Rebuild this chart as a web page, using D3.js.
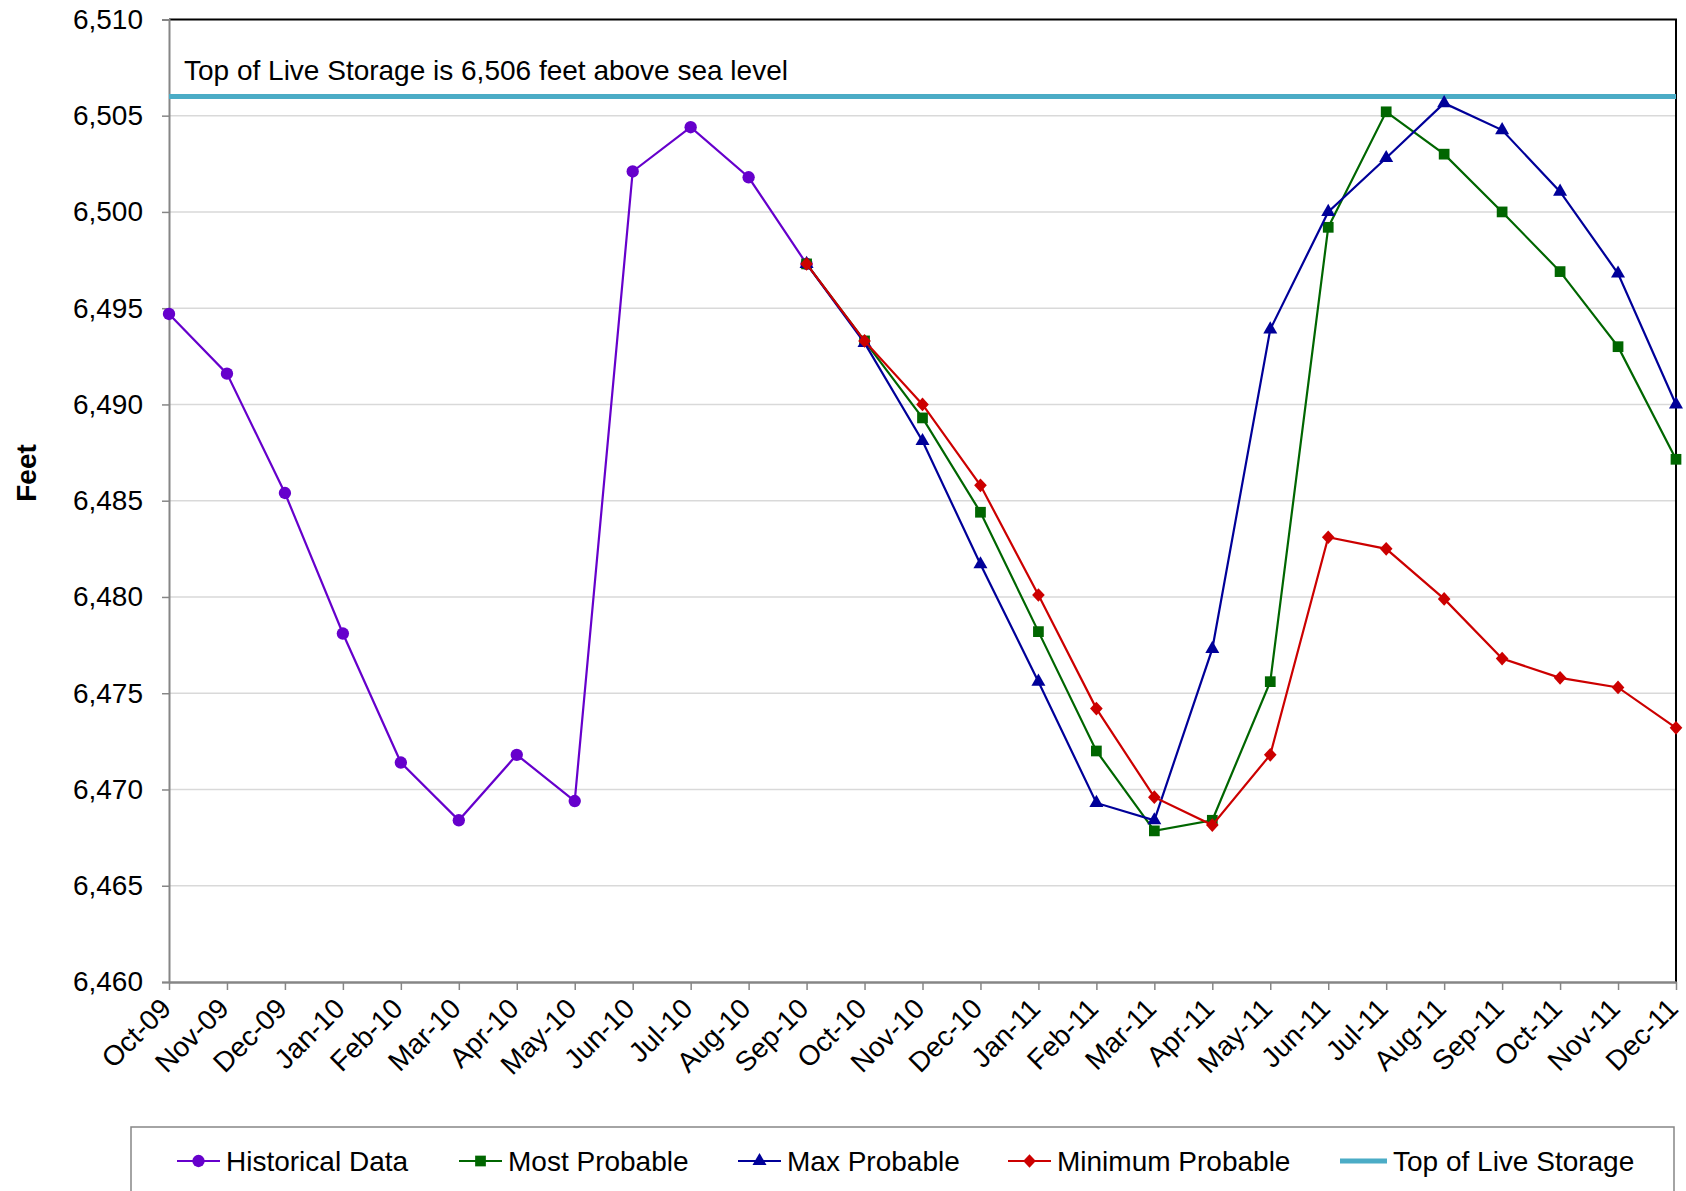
<!DOCTYPE html>
<html>
<head>
<meta charset="utf-8">
<script src="https://cdn.jsdelivr.net/npm/d3@7"></script>
<style>
  html, body { margin: 0; padding: 0; background: #fff; }
  svg { display: block; font-family: "Liberation Sans", Arial, sans-serif; }
</style>
</head>
<body>
<svg id="chart" width="1686" height="1191"></svg>
<script>
// Reservoir elevation, feet above sea level
const months = ["Oct-09","Nov-09","Dec-09","Jan-10","Feb-10","Mar-10","Apr-10","May-10","Jun-10",
  "Jul-10","Aug-10","Sep-10","Oct-10","Nov-10","Dec-10","Jan-11","Feb-11","Mar-11","Apr-11",
  "May-11","Jun-11","Jul-11","Aug-11","Sep-11","Oct-11","Nov-11","Dec-11"];

// Observed Oct-09 .. Sep-10
const historical = [6494.7, 6491.6, 6485.4, 6478.1, 6471.4, 6468.4, 6471.8, 6469.4, 6502.1, 6504.4, 6501.8, 6497.3];
// Forecasts Sep-10 .. Dec-11
const mostProbable = [6497.3, 6493.3, 6489.3, 6484.4, 6478.2, 6472.0, 6467.85, 6468.4, 6475.6, 6499.2, 6505.2, 6503.0, 6500.0, 6496.9, 6493.0, 6487.15];
const maxProbable  = [6497.3, 6493.2, 6488.1, 6481.7, 6475.6, 6469.3, 6468.4, 6477.3, 6493.9, 6500.0, 6502.8, 6505.65, 6504.25, 6501.05, 6496.8, 6490.0];
const minProbable  = [6497.3, 6493.3, 6490.0, 6485.8, 6480.1, 6474.2, 6469.6, 6468.15, 6471.8, 6483.1, 6482.5, 6479.9, 6476.8, 6475.8, 6475.3, 6473.2];
const forecastStart = "Sep-10";
const topOfLiveStorage = 6506;
const yTicks = [6460, 6465, 6470, 6475, 6480, 6485, 6490, 6495, 6500, 6505, 6510];

const svg = d3.select("#chart");
const plotLeft = 169, plotRight = 1676, plotTop = 19.4, plotBottom = 982;
const FONT = 28;

const x = d3.scalePoint().domain(months).range([plotLeft, plotRight]);
const y = d3.scaleLinear().domain([6460, 6510]).range([plotBottom, plotTop]);
const fmt = d3.format(",");

// gridlines
svg.append("g").selectAll("line").data(yTicks.slice(1, -1)).join("line")
  .attr("x1", plotLeft).attr("x2", plotRight)
  .attr("y1", d => y(d)).attr("y2", d => y(d))
  .attr("stroke", "#d9d9d9").attr("stroke-width", 1.5);

// frame: top and right edges
svg.append("path")
  .attr("d", `M${plotLeft},${plotTop}H${plotRight}V${plotBottom}`)
  .attr("fill", "none").attr("stroke", "#000").attr("stroke-width", 2);

// y axis
const yAxis = svg.append("g").attr("transform", `translate(${plotLeft},0)`)
  .call(d3.axisLeft(y).tickValues(yTicks).tickFormat(fmt).tickSize(7).tickPadding(19));
yAxis.select(".domain").attr("stroke", "#868686").attr("stroke-width", 2);
yAxis.selectAll(".tick line").attr("stroke", "#868686").attr("stroke-width", 1.5);
yAxis.selectAll(".tick text").attr("font-size", FONT).attr("fill", "#000")
  .attr("font-family", "Liberation Sans, Arial, sans-serif");

// x axis
const xAxis = svg.append("g").attr("transform", `translate(0,${plotBottom})`)
  .call(d3.axisBottom(x).tickSize(8).tickSizeOuter(0).tickPadding(0));
xAxis.select(".domain").attr("stroke", "#868686").attr("stroke-width", 2.5);
xAxis.selectAll(".tick line").attr("stroke", "#868686").attr("stroke-width", 1.5);
xAxis.selectAll(".tick text")
  .attr("font-size", FONT).attr("fill", "#000")
  .attr("font-family", "Liberation Sans, Arial, sans-serif")
  .attr("text-anchor", "end")
  .attr("dy", null).attr("y", null)
  .attr("transform", "translate(-11,14) rotate(-45)")
  .attr("dominant-baseline", "hanging");

// axis title
svg.append("text")
  .attr("transform", `translate(36,473) rotate(-90)`)
  .attr("text-anchor", "middle")
  .attr("font-size", FONT).attr("font-weight", "bold")
  .text("Feet");

// top of live storage
svg.append("line")
  .attr("x1", plotLeft).attr("x2", plotRight)
  .attr("y1", y(topOfLiveStorage)).attr("y2", y(topOfLiveStorage))
  .attr("stroke", "#4bacc6").attr("stroke-width", 5);
svg.append("text")
  .attr("x", 184).attr("y", 80)
  .attr("font-size", FONT)
  .text("Top of Live Storage is 6,506 feet above sea level");

// series
const startIdx = months.indexOf(forecastStart);
const seriesDefs = [
  { name: "Historical Data", color: "#6600cc", marker: "circle", values: historical, offset: 0 },
  { name: "Most Probable", color: "#006600", marker: "square", values: mostProbable, offset: startIdx },
  { name: "Max Probable", color: "#000099", marker: "triangle", values: maxProbable, offset: startIdx },
  { name: "Minimum Probable", color: "#cc0000", marker: "diamond", values: minProbable, offset: startIdx }
];

const symbolFor = {
  circle: d3.symbol().type(d3.symbolCircle).size(120),
  square: d3.symbol().type(d3.symbolSquare).size(115),
  triangle: d3.symbol().type(d3.symbolTriangle).size(85),
  diamond: d3.symbol().type(d3.symbolSquare).size(80)
};
const markerTransform = (marker, px, py) => marker === "diamond"
  ? `translate(${px},${py}) scale(1,1.08) rotate(45)`
  : `translate(${px},${py})`;

const line = d3.line().x(d => x(d.m)).y(d => y(d.v));

seriesDefs.forEach(s => {
  const pts = s.values.map((v, i) => ({ m: months[i + s.offset], v }));
  const g = svg.append("g");
  g.append("path").datum(pts).attr("d", line)
    .attr("fill", "none").attr("stroke", s.color).attr("stroke-width", 2.2);
  g.selectAll("path.mk").data(pts).join("path").attr("class", "mk")
    .attr("d", symbolFor[s.marker])
    .attr("transform", d => markerTransform(s.marker, x(d.m), y(d.v)))
    .attr("fill", s.color);
});

// legend
const legend = svg.append("g");
legend.append("rect")
  .attr("x", 131).attr("y", 1127).attr("width", 1543).attr("height", 100)
  .attr("fill", "#fff").attr("stroke", "#868686").attr("stroke-width", 1.5);
const legendItems = [
  ...seriesDefs.map(s => ({ name: s.name, color: s.color, marker: s.marker })),
  { name: "Top of Live Storage", color: "#4bacc6", marker: null }
];
const legendX = [177, 459, 738, 1008, 1340];
const ly = 1161;
legendItems.forEach((it, i) => {
  const g = legend.append("g").attr("transform", `translate(${legendX[i]},${ly})`);
  const len = it.marker ? 43 : 47;
  g.append("line").attr("x1", 0).attr("x2", len)
    .attr("stroke", it.color).attr("stroke-width", it.marker ? 2.2 : 5);
  if (it.marker) {
    g.append("path").attr("d", symbolFor[it.marker])
      .attr("transform", markerTransform(it.marker, len / 2, 0))
      .attr("fill", it.color);
  }
  g.append("text").attr("x", len + 6).attr("y", 0).attr("dy", "0.35em")
    .attr("font-size", FONT).text(it.name);
});
</script>
</body>
</html>
